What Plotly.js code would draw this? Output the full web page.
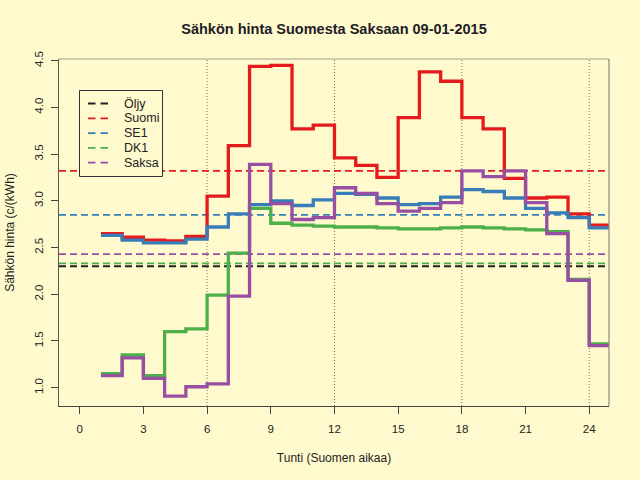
<!DOCTYPE html>
<html>
<head>
<meta charset="utf-8">
<script src="https://cdn.plot.ly/plotly-3.0.1.min.js"></script>
<style>html,body{margin:0;padding:0;background:#FFFACD;}</style>
</head>
<body>
<div id="chart" style="width:640px;height:480px;"></div>
<script>
// ---- data ----
var hours = [1,2,3,4,5,6,7,8,9,10,11,12,13,14,15,16,17,18,19,20,21,22,23,24];
var suomi = [2.65,2.61,2.58,2.57,2.62,3.05,3.59,4.44,4.45,3.77,3.81,3.46,3.38,3.25,3.89,4.38,4.28,3.89,3.77,3.24,3.03,3.04,2.86,2.74];
var se1   = [2.63,2.58,2.55,2.55,2.59,2.72,2.86,2.96,3.00,2.95,3.01,3.08,3.07,3.03,2.96,2.97,3.04,3.12,3.10,3.03,2.92,2.87,2.82,2.71];
var dk1   = [1.15,1.35,1.13,1.60,1.63,1.99,2.44,2.92,2.76,2.74,2.73,2.72,2.72,2.71,2.70,2.70,2.71,2.72,2.71,2.70,2.69,2.67,2.16,1.47];
var saksa = [1.13,1.32,1.10,0.91,1.01,1.04,1.98,3.39,2.97,2.80,2.82,3.14,3.08,2.97,2.89,2.92,2.98,3.32,3.26,3.32,2.98,2.65,2.15,1.45];
var seriesNames = ["Öljy","Suomi","SE1","DK1","Saksa"];
var seriesColors = ["#222222","#E41A1C","#377EB8","#4DAF4A","#984EA3"];
var averages = [2.30, 3.32, 2.85, 2.33, 2.43];   // dashed horizontal levels
var gridHours = [6,12,18,24];
var xTicks = [0,3,6,9,12,15,18,21,24];
var yTicks = [1.0,1.5,2.0,2.5,3.0,3.5,4.0,4.5];
var yTickText = ["1.0","1.5","2.0","2.5","3.0","3.5","4.0","4.5"];
var titleText = "Sähkön hinta Suomesta Saksaan 09-01-2015";
var xTitle = "Tunti (Suomen aikaa)";
var yTitle = "Sähkön hinta (c/(kWh)";

// ---- layout geometry ----
var W = 640, H = 480, ML = 59, MR = 31, MT = 59, MB = 74;
var PW = W - ML - MR, PH = H - MT - MB;
function px(x){ return (x - ML) / PW; }
function py(y){ return (H - MB - y) / PH; }
var BG = "#FFFACD";
var FONT = "Liberation Sans, Arial, sans-serif";

// step traces: each hourly price spans [h, h+1]
function stepX(){ return hours.concat([hours[hours.length-1] + 1]); }
function stepY(v){ return v.concat([v[v.length-1]]); }
var stepSeries = [suomi, se1, dk1, saksa];
var traces = stepSeries.map(function(v, i){
  return {
    x: stepX(), y: stepY(v), type: "scatter", mode: "lines",
    line: {shape: "hv", color: seriesColors[i+1], width: 3.3},
    name: seriesNames[i+1], showlegend: false, hoverinfo: "skip"
  };
});

var shapes = [];
gridHours.forEach(function(h){
  shapes.push({type:"line", xref:"x", yref:"paper", x0:h, x1:h, y0:0, y1:1, layer:"below",
    line:{color:"#7a7468", width:1, dash:"1px,2px"}});
});
averages.forEach(function(a, i){
  shapes.push({type:"line", xref:"paper", yref:"y", x0:0, x1:1, y0:a, y1:a, layer:"below",
    line:{color:seriesColors[i], width:1.8, dash:"7px,4px"}});
});
// legend box
shapes.push({type:"rect", xref:"paper", yref:"paper", x0:px(79.5), x1:px(162.5), y0:py(176.5), y1:py(90.5),
  layer:"below", fillcolor:BG, line:{color:"#333", width:1}});
var annotations = [];
var legRow0 = 103.5, legStep = 14.8;
seriesNames.forEach(function(n, i){
  var yy = legRow0 + i*legStep;
  shapes.push({type:"line", xref:"paper", yref:"paper", x0:px(88), x1:px(108.5), y0:py(yy), y1:py(yy),
    layer:"below", line:{color:seriesColors[i], width:1.8, dash:"7.5px,5px"}});
  annotations.push({xref:"paper", yref:"paper", x:px(122), y:py(yy), xanchor:"left", yanchor:"middle",
    text:n, showarrow:false, font:{family:FONT, size:12.5, color:"#222"}});
});
// top and right frame lines
shapes.push({type:"line", xref:"paper", yref:"paper", x0:0, x1:1, y0:1, y1:1, line:{color:"#a39d90", width:1.2}});
shapes.push({type:"line", xref:"paper", yref:"paper", x0:1, x1:1, y0:0, y1:1, line:{color:"#8f897c", width:1.2}});

var layout = {
  width: W, height: H,
  margin: {l: ML, r: MR, t: MT, b: MB, pad: 0},
  paper_bgcolor: BG, plot_bgcolor: BG,
  showlegend: false,
  font: {family: FONT, color: "#222"},
  title: {text: titleText, x: 0.5 * (ML + (W - MR)) / W, xanchor: "center", y: 1 - 29/H, yanchor: "middle", yref: "container",
    font: {family: FONT, size: 14.5, color: "#221c26", weight: "bold"}},
  xaxis: {
    range: [-0.975, 24.93], tickvals: xTicks, ticktext: xTicks.map(String),
    ticks: "outside", ticklen: 7, tickcolor: "#444", tickwidth: 1,
    showline: true, linecolor: "#444", linewidth: 1.2, showgrid: false, zeroline: false,
    tickfont: {family: FONT, size: 11.5, color: "#222"}, ticklabelstandoff: 5,
    title: {text: xTitle, font: {family: FONT, size: 12, color: "#222"}, standoff: 19}
  },
  yaxis: {
    range: [0.804, 4.518], tickvals: yTicks, ticktext: yTickText, tickangle: -90,
    ticks: "outside", ticklen: 7, tickcolor: "#444", tickwidth: 1,
    showline: true, linecolor: "#555", linewidth: 1.2, showgrid: false, zeroline: false,
    tickfont: {family: FONT, size: 11.5, color: "#222"}, ticklabelstandoff: 3,
    title: {text: yTitle, font: {family: FONT, size: 12, color: "#222"}, standoff: 16}
  },
  shapes: shapes,
  annotations: annotations
};

Plotly.newPlot("chart", traces, layout, {staticPlot: true, displayModeBar: false});
</script>
</body>
</html>
